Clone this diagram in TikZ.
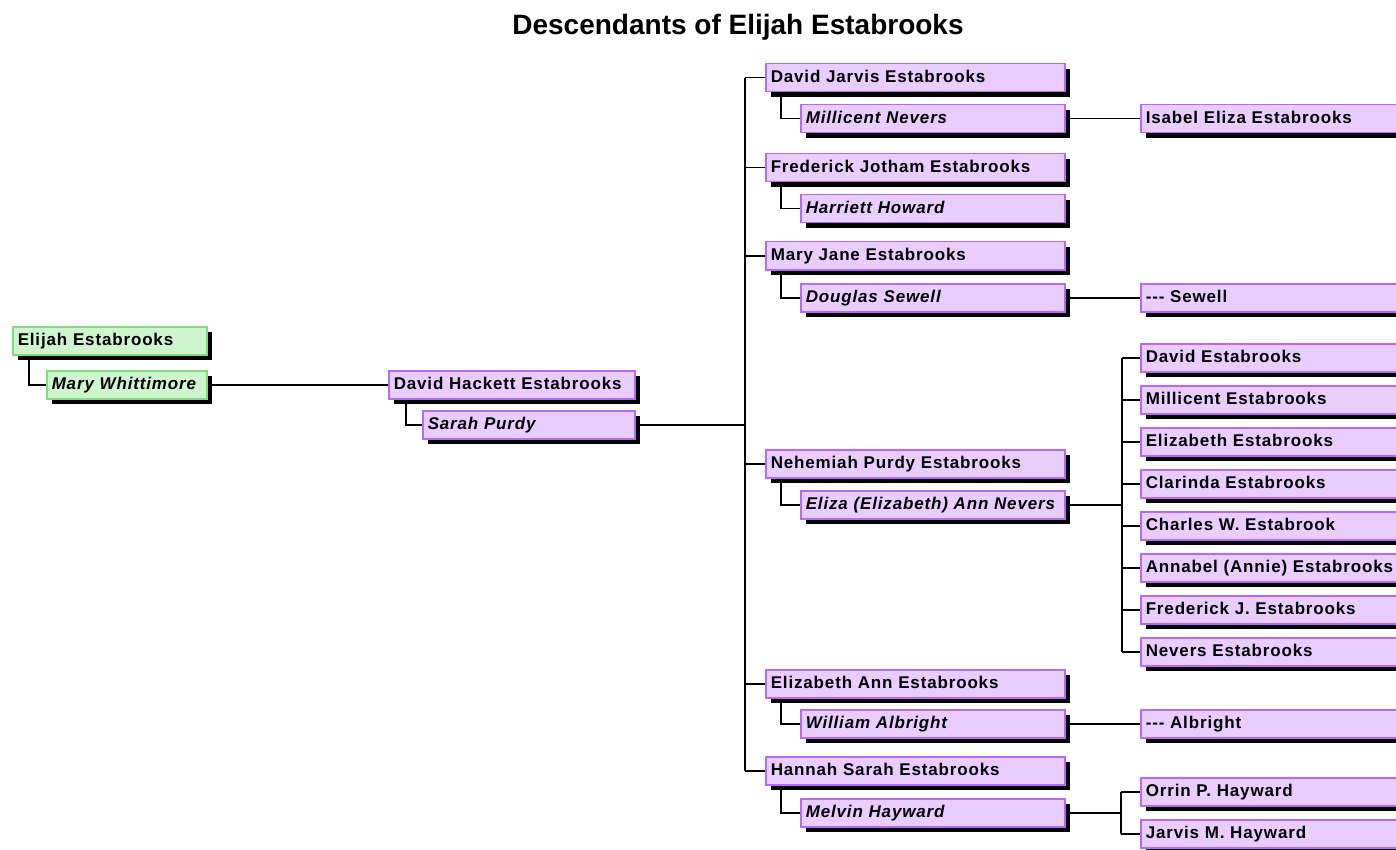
\documentclass[tikz,border=0pt]{standalone}
\usepackage{fontspec}
\setmainfont{Liberation Sans}
\usetikzlibrary{shadows}
\definecolor{boxfill}{RGB}{233, 205, 255}
\definecolor{boxline}{RGB}{180, 105, 250}
\definecolor{rootfill}{RGB}{206, 245, 206}
\definecolor{rootline}{RGB}{125, 222, 125}

\tikzset{
    person/.style={draw=boxline, fill=boxfill, line width=1.5pt, anchor=north west,
        minimum height=28pt, inner xsep=5pt, inner ysep=0pt, text width=#1, align=left,
        text height=12pt, text depth=3pt,
        font=\fontsize{17}{20}\selectfont\bfseries\addfontfeature{LetterSpace=5},
        drop shadow={shadow xshift=5pt, shadow yshift=-5pt, fill=black, opacity=1}},
    spouse/.style={person=#1, font=\fontsize{17}{20}\selectfont\bfseries\itshape\addfontfeature{LetterSpace=5}},
    root/.style={draw=rootline, fill=rootfill},
    link/.style={line width=1.5pt}
}

\begin{document}
\begin{tikzpicture}[x=1pt, y=-1pt]
    \useasboundingbox (0,0) rectangle (1396,850);
    \clip (0,0) rectangle (1396,850);

    \node[font=\fontsize{28}{32}\selectfont\bfseries, anchor=base] (title) at (738,35) {Descendants of Elijah Estabrooks};

    % first generations
    \node[person=184, root] (elijah) at (12,326) {Elijah Estabrooks};
    \node[spouse=150, root] (whittimore) at (46,370) {Mary Whittimore};
    \node[person=236] (hackett) at (388,370) {David Hackett Estabrooks};
    \node[spouse=202] (sarah) at (422,410) {Sarah Purdy};

    % children
    \node[person=289] (jarvis) at (765,63) {David Jarvis Estabrooks};
    \node[spouse=254] (millicent) at (800,104) {Millicent Nevers};
    \node[person=289] (frederick) at (765,153) {Frederick Jotham Estabrooks};
    \node[spouse=254] (harriett) at (800,194) {Harriett Howard};
    \node[person=289] (maryjane) at (765,241) {Mary Jane Estabrooks};
    \node[spouse=254] (douglas) at (800,283) {Douglas Sewell};
    \node[person=289] (nehemiah) at (765,449) {Nehemiah Purdy Estabrooks};
    \node[spouse=254] (eliza) at (800,490) {Eliza (Elizabeth) Ann Nevers};
    \node[person=289] (elizabeth) at (765,669) {Elizabeth Ann Estabrooks};
    \node[spouse=254] (william) at (800,709) {William Albright};
    \node[person=289] (hannah) at (765,756) {Hannah Sarah Estabrooks};
    \node[spouse=254] (melvin) at (800,798) {Melvin Hayward};

    % grandchildren
    \node[person=289] (isabel) at (1140,104) {Isabel Eliza Estabrooks};
    \node[person=289] (sewell) at (1140,283) {-{}-{}- Sewell};
    \node[person=289] (davide) at (1140,343) {David Estabrooks};
    \node[person=289] (millicente) at (1140,385) {Millicent Estabrooks};
    \node[person=289] (elizabethe) at (1140,427) {Elizabeth Estabrooks};
    \node[person=289] (clarinda) at (1140,469) {Clarinda Estabrooks};
    \node[person=289] (charles) at (1140,511) {Charles W. Estabrook};
    \node[person=289] (annabel) at (1140,553) {Annabel (Annie) Estabrooks};
    \node[person=289] (frederickj) at (1140,595) {Frederick J. Estabrooks};
    \node[person=289] (nevers) at (1140,637) {Nevers Estabrooks};
    \node[person=289] (albright) at (1140,709) {-{}-{}- Albright};
    \node[person=289] (orrin) at (1140,777) {Orrin P. Hayward};
    \node[person=289] (jarvism) at (1140,819) {Jarvis M. Hayward};

    % lines
    \draw[link] ([xshift=17pt]elijah.south west) |- (whittimore.west);
    \draw[link] (whittimore.east) -- (hackett.west);
    \draw[link] ([xshift=18pt]hackett.south west) |- (sarah.west);

    \coordinate (trunk) at (745,0);
    \draw[link] (sarah.east) -- (sarah.east -| trunk);
    \draw[link] (trunk |- jarvis.west) -- (trunk |- hannah.west);
    \foreach \c/\s in {jarvis/millicent, frederick/harriett, maryjane/douglas,
                       nehemiah/eliza, elizabeth/william, hannah/melvin} {
        \draw[link] (trunk |- \c.west) -- (\c.west);
        \draw[link] ([xshift=16pt]\c.south west) |- (\s.west);
    }

    \draw[link] (millicent.east) -- (isabel.west);
    \draw[link] (douglas.east) -- (sewell.west);
    \draw[link] (william.east) -- (albright.west);

    \coordinate (kids) at (1122,0);
    \draw[link] (eliza.east) -- (eliza.east -| kids);
    \draw[link] (kids |- davide.west) -- (kids |- nevers.west);
    \foreach \k in {davide, millicente, elizabethe, clarinda, charles, annabel, frederickj, nevers}
        \draw[link] (kids |- \k.west) -- (\k.west);

    \coordinate (hkids) at (1121,0);
    \draw[link] (melvin.east) -- (melvin.east -| hkids);
    \draw[link] (hkids |- orrin.west) -- (hkids |- jarvism.west);
    \foreach \k in {orrin, jarvism}
        \draw[link] (hkids |- \k.west) -- (\k.west);
\end{tikzpicture}
\end{document}
